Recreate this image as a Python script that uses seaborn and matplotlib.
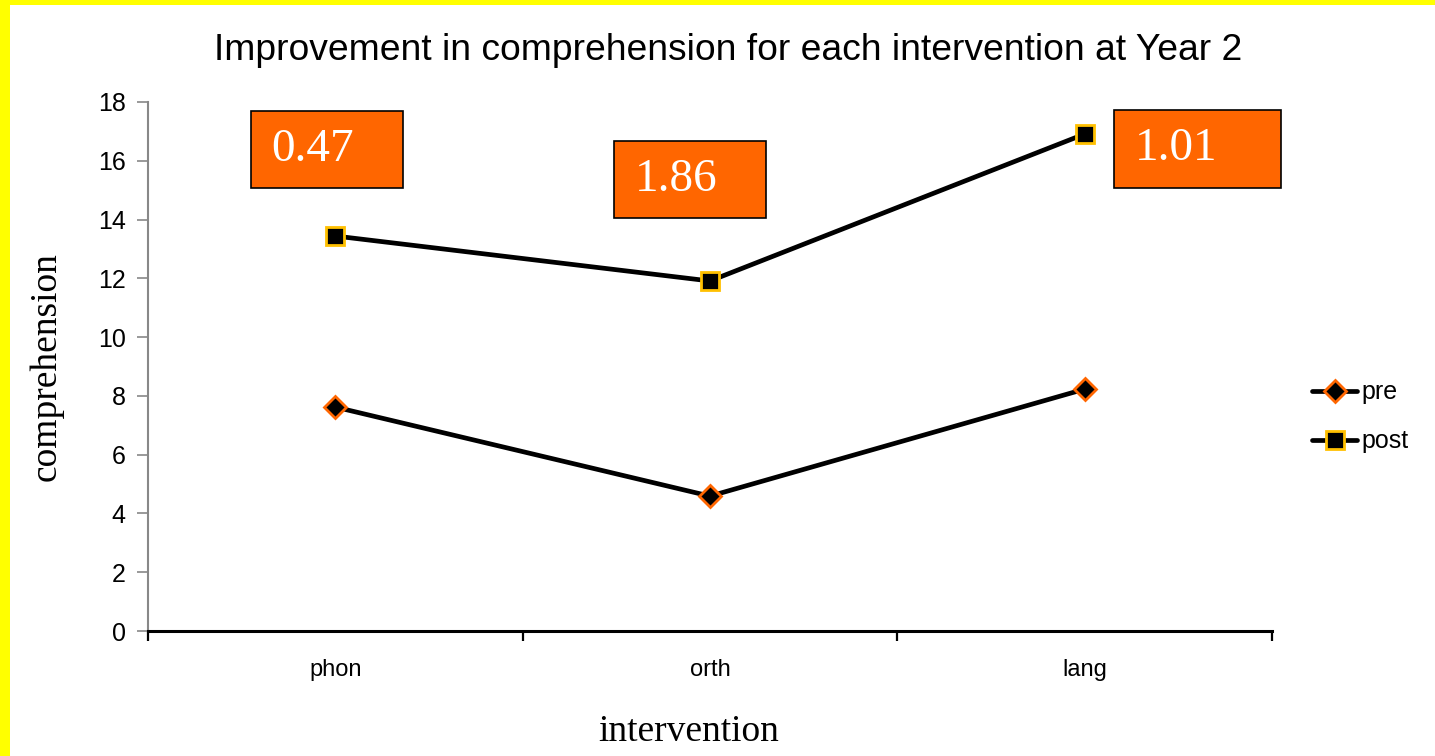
import matplotlib
matplotlib.use("Agg")
import matplotlib.pyplot as plt
from matplotlib.patches import Rectangle
from matplotlib.ticker import FixedLocator, NullFormatter
import seaborn as sns
import pandas as pd

interventions = ["phon", "orth", "lang"]
pre_scores = [7.62, 4.59, 8.23]
post_scores = [13.44, 11.91, 16.91]
effect_labels = ["0.47", "1.86", "1.01"]

title = "Improvement in comprehension for each intervention at Year 2"

sns.set_theme(style="white")
plt.rcParams["font.family"] = ["Liberation Sans", "DejaVu Sans"]
plt.rcParams["text.color"] = "black"
plt.rcParams["axes.labelcolor"] = "black"
plt.rcParams["xtick.labelcolor"] = "black"
plt.rcParams["ytick.labelcolor"] = "black"

df_pre = pd.DataFrame({"intervention": interventions, "comprehension": pre_scores})
df_post = pd.DataFrame({"intervention": interventions, "comprehension": post_scores})

fig = plt.figure(figsize=(14.35, 7.56), dpi=100)
ax = fig.add_axes([0.1031, 0.1653, 0.7833, 0.6998])

sns.lineplot(data=df_pre, x="intervention", y="comprehension", ax=ax,
             color="black", linewidth=3.4, marker="D", markersize=11,
             markerfacecolor="black", markeredgecolor="#FF6600",
             markeredgewidth=2, label="pre")
sns.lineplot(data=df_post, x="intervention", y="comprehension", ax=ax,
             color="black", linewidth=3.4, marker="s", markersize=13,
             markerfacecolor="black", markeredgecolor="#FFC000",
             markeredgewidth=2, label="post")

ax.set_xlim(-0.5, 2.5)
ax.set_ylim(0, 18)
ax.set_yticks(range(0, 19, 2))
ax.tick_params(axis="y", which="major", direction="out", length=8, width=1.2,
               color="#888888", labelsize=18, pad=8, left=True)
ax.set_xticks(range(len(interventions)))
ax.set_xticklabels(interventions)
ax.tick_params(axis="x", which="major", length=0, labelsize=17, pad=20)
ax.xaxis.set_minor_locator(FixedLocator([-0.5, 0.5, 1.5, 2.5]))
ax.xaxis.set_minor_formatter(NullFormatter())
ax.tick_params(axis="x", which="minor", direction="out", length=7, width=1.6,
               color="black", bottom=True)

for s in ["top", "right"]:
    ax.spines[s].set_visible(False)
ax.spines["left"].set_color("#888888")
ax.spines["left"].set_linewidth(1.5)
ax.spines["bottom"].set_color("black")
ax.spines["bottom"].set_linewidth(2.2)

ax.set_xlabel("intervention", family="Liberation Serif", fontsize=27)
ax.xaxis.set_label_coords(0.481, -0.158)
ax.set_ylabel("comprehension", family="Liberation Serif", fontsize=27, labelpad=25)
ax.set_title(title, fontsize=26.8, pad=30, x=0.516)

# effect-size call-out boxes
boxes = [(-0.225, 15.07, 0.406, 2.62), (0.744, 14.05, 0.405, 2.62), (2.078, 15.07, 0.446, 2.66)]
for (bx, by, bw, bh), txt in zip(boxes, effect_labels):
    ax.add_patch(Rectangle((bx, by), bw, bh, facecolor="#FF6600", edgecolor="black",
                           linewidth=1.2, clip_on=False, zorder=5))
    ax.text(bx + 0.055, by + bh * 0.5, txt, family="Liberation Serif", fontsize=34,
            color="white", va="center", ha="left", zorder=6, clip_on=False)

leg = ax.legend(loc="center left", bbox_to_anchor=(1.016, 0.405), frameon=False,
                fontsize=18, handlelength=1.8, handletextpad=0.15, labelspacing=1.0,
                markerscale=1.0)

# slide border
fig.patches.append(Rectangle((0, 1 - 5 / 756), 1, 5 / 756, transform=fig.transFigure,
                             facecolor="#FFFF00", edgecolor="none", zorder=10))
fig.patches.append(Rectangle((0, 0), 10 / 1435, 1, transform=fig.transFigure,
                             facecolor="#FFFF00", edgecolor="none", zorder=10))

fig.savefig("out.png", dpi=100)
